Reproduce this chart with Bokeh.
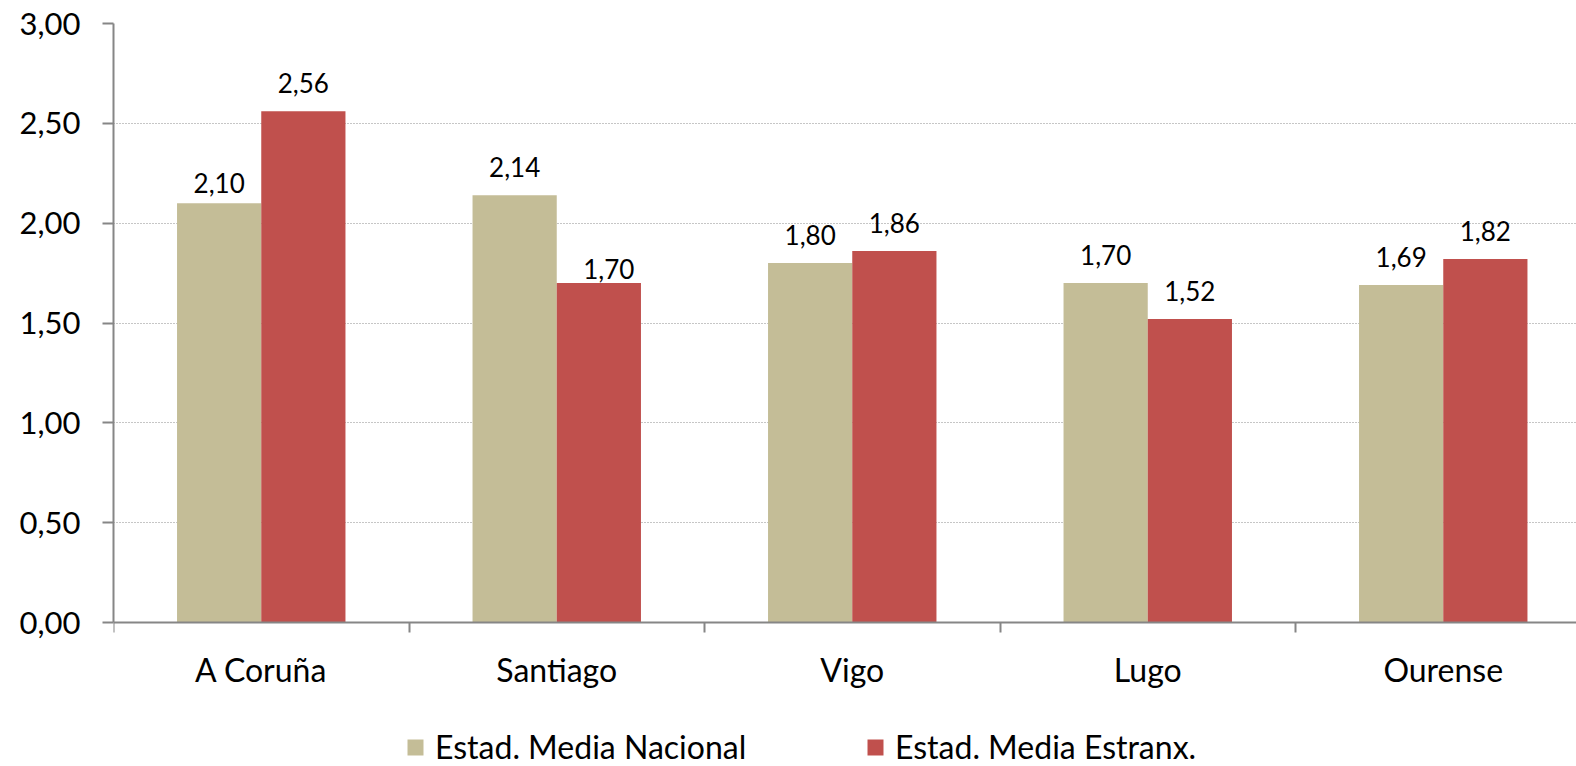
from bokeh.plotting import figure
from bokeh.models import (Range1d, FixedTicker, CustomJSTickFormatter, ColumnDataSource,
                          Legend, LegendItem)
from bokeh.core.properties import value
from bokeh.embed import file_html
from bokeh.resources import INLINE

# ---- data ----
categories = ["A Coruña", "Santiago", "Vigo", "Lugo", "Ourense"]
series_names = ["Estad. Media Nacional", "Estad. Media Estranx."]
nacional = [2.10, 2.14, 1.80, 1.70, 1.69]
estranx = [2.56, 1.70, 1.86, 1.52, 1.82]
y_ticks = [0.0, 0.5, 1.0, 1.5, 2.0, 2.5, 3.0]

# ---- style / layout ----
FONT = "Lato"
COL_NAC = "#C4BD97"
COL_EST = "#C0504D"
AXIS_COL = "#868686"
BAR_W = 0.285
LABEL_GAP = -28            # px above bar top
nudge_nac_y = [8, 0, 0, 0, 0]
nudge_est_y = [0, 14, 0, 0, 0]
nudge_est_x = [0, 10, 0, 0, 0]

W, H = 1576, 766
LEFT, TOP = 113, 23
PLOT_PX = 599              # pixel height of the 0..3 value span
BELOW_PX = H - TOP - PLOT_PX   # room under the zero line for labels / legend
Y_MAX = 3.0
Y_MIN = -BELOW_PX * Y_MAX / PLOT_PX
X_MAX = (W - LEFT) / 295.5


def fmt(v):
    return f"{v:.2f}".replace(".", ",")


centers = [i + 0.5 for i in range(len(categories))]
src_nac = ColumnDataSource(dict(
    x=[c - BAR_W / 2 for c in centers], top=nacional,
    lab=[fmt(v) for v in nacional],
    dy=[LABEL_GAP + n for n in nudge_nac_y], dx=[0] * len(categories)))
src_est = ColumnDataSource(dict(
    x=[c + BAR_W / 2 for c in centers], top=estranx,
    lab=[fmt(v) for v in estranx],
    dy=[LABEL_GAP + n for n in nudge_est_y], dx=nudge_est_x))

p = figure(width=W, height=H, output_backend="svg", toolbar_location=None,
           x_range=Range1d(0, X_MAX), y_range=Range1d(Y_MIN, Y_MAX),
           min_border_left=LEFT, min_border_top=TOP, min_border_bottom=0,
           min_border_right=0)
p.outline_line_color = None
p.background_fill_color = "white"
p.border_fill_color = "white"

r_nac = p.vbar(x="x", top="top", bottom=0, width=BAR_W, source=src_nac,
               fill_color=COL_NAC, line_color=None)
r_est = p.vbar(x="x", top="top", bottom=0, width=BAR_W, source=src_est,
               fill_color=COL_EST, line_color=None)

for src in (src_nac, src_est):
    p.text(x="x", y="top", text="lab", source=src, x_offset="dx", y_offset="dy",
           text_align="center", text_baseline="alphabetic",
           text_font=value(FONT), text_font_size="26px", text_color="black")

# grid
p.xgrid.visible = False
p.ygrid.ticker = FixedTicker(ticks=y_ticks[1:])
p.ygrid.grid_line_color = "#8C8C8C"
p.ygrid.grid_line_dash = "1 2"
p.ygrid.grid_line_width = 1

# y axis
ya = p.yaxis[0]
ya.ticker = FixedTicker(ticks=y_ticks)
ya.bounds = (0, Y_MAX)
ya.formatter = CustomJSTickFormatter(code="return tick.toFixed(2).replace('.', ',');")
ya.axis_line_color = AXIS_COL
ya.axis_line_width = 2
ya.major_tick_line_color = AXIS_COL
ya.major_tick_line_width = 2
ya.major_tick_out = 11
ya.major_tick_in = 0
ya.minor_tick_out = 0
ya.minor_tick_in = 0
ya.major_label_standoff = 22
ya.major_label_text_font = FONT
ya.major_label_text_font_size = "31px"
ya.major_label_text_color = "black"

# x axis, drawn on the zero line
xa = p.xaxis[0]
xa.fixed_location = 0
xa.ticker = FixedTicker(ticks=centers, minor_ticks=list(range(len(categories) + 1)))
xa.formatter = CustomJSTickFormatter(args=dict(cats=categories),
                                     code="return cats[Math.floor(tick)] || '';")
xa.axis_line_color = AXIS_COL
xa.axis_line_width = 2
xa.major_tick_out = 0
xa.major_tick_in = 0
xa.minor_tick_out = 10
xa.minor_tick_in = 0
xa.minor_tick_line_color = AXIS_COL
xa.minor_tick_line_width = 2
xa.major_label_standoff = 17
xa.major_label_text_font = FONT
xa.major_label_text_font_size = "32px"
xa.major_label_text_color = "black"

legend = Legend(items=[LegendItem(label=series_names[0], renderers=[r_nac]),
                       LegendItem(label=series_names[1], renderers=[r_est])],
                orientation="horizontal", location=(292, 0),
                label_text_font=FONT, label_text_font_size="32px",
                label_text_color="black",
                glyph_width=20, glyph_height=20, label_standoff=10,
                label_width=430, label_height=20, spacing=0, padding=0, margin=0,
                border_line_color=None, background_fill_alpha=0)
p.add_layout(legend)

open("out.html", "w").write(file_html(p, INLINE))
